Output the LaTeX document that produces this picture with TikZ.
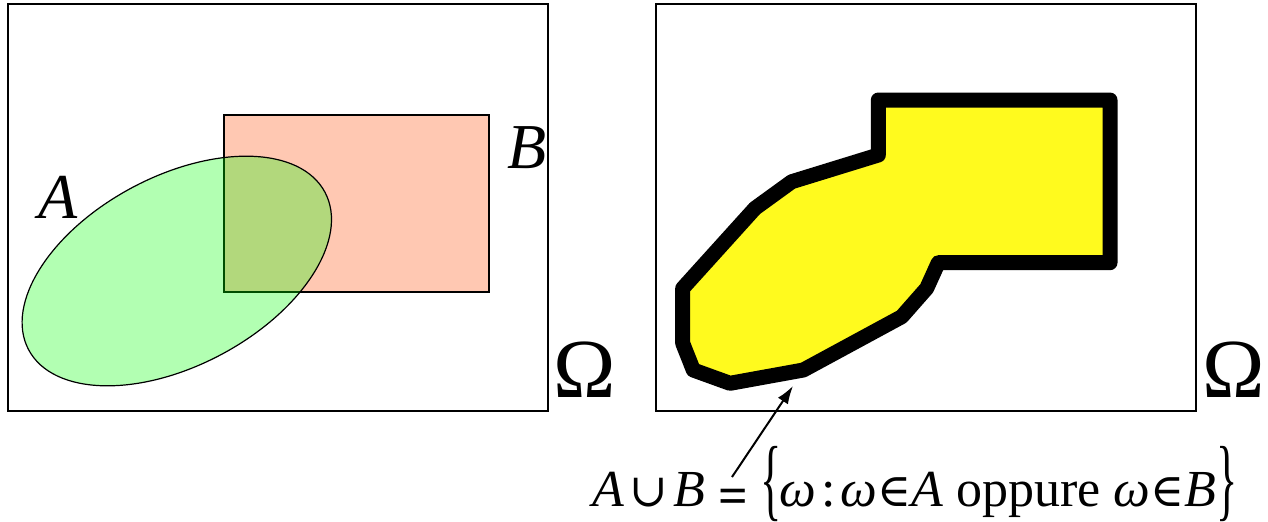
\documentclass[tikz,border=0pt]{standalone}
\usepackage{graphicx}
\usepackage{fontspec}
\setmainfont{Liberation Serif}[Ligatures=TeX]
\newfontfamily\tms{Liberation Serif}
\newfontfamily\symf{DejaVu Serif}
\usetikzlibrary{arrows.meta}
\definecolor{salmonB}{RGB}{255,200,178}
\definecolor{yelU}{RGB}{255,250,30}
\tikzset{
  frame/.style={draw=black, line width=0.8pt},
  setlabel/.style={font=\tms\fontsize{32}{34}\selectfont\itshape, inner sep=0pt},
  omlabel/.style={font=\tms\fontsize{42}{44}\selectfont, inner sep=0pt},
}
\newcommand{\bigbr}[1]{\raisebox{-0.06em}{\scalebox{0.85}[1.75]{\{}}}
\newcommand{\bigbrr}[1]{\raisebox{-0.06em}{\scalebox{0.85}[1.75]{\}}}}
\newcommand{\sy}[1]{{\symf\fontsize{23}{25}\selectfont #1}}
\begin{document}
\begin{tikzpicture}[x=0.5pt,y=-0.5pt]
\useasboundingbox (0,0) rectangle (1268,521);
% frames
\draw[frame] (8,4) rectangle (548,411);
\draw[frame] (656,4) rectangle (1196,411);
% B rectangle
\draw[fill=salmonB, line width=0.6pt] (224,115) rectangle (489,292);
% A ellipse
\draw[fill=green, fill opacity=0.3, line width=0.6pt, rotate around={28:(176.8,271)}]
  (176.8,271) ellipse [x radius=167.8, y radius=94.6];
% labels
\node[setlabel] (la) at (58,197) {A};
\node[setlabel] (lb) at (527,148) {B};
\node[omlabel] (om1) at (585,370) {Ω};
\node[omlabel] (om2) at (1234,370) {Ω};
% union shape
\draw[fill=yelU, line width=7.5pt, line join=round]
  (878.3,100) -- (1110,100) -- (1110,262.7) -- (938.3,262.7) -- (926.7,288.3)
  -- (901.7,316.7) -- (803.3,370) -- (730,383.3) -- (693.3,370) -- (682.7,343.3)
  -- (682.7,288.3) -- (755,208.3) -- (791.7,181.7) -- (878.3,155) -- cycle;
% formula
\node[anchor=base west, inner sep=0pt, font=\tms\fontsize{26}{30}\selectfont] (f) at (592,506)
  {\textit{A}\hspace{0.1em}\sy{∪}\hspace{0.1em}\textit{B} \raisebox{-0.15em}{\textbf{=}} \bigbr{}\hspace{-0.05em}\textit{ω\hspace{0.1em}}:\hspace{0.1em}\textit{ω}\sy{∈}\textit{A} oppure \textit{ω}\sy{∈}\textit{B}\bigbrr{}};
\coordinate (tail) at (732,477);
\coordinate (head) at (793,386);
\draw[line width=1pt, -{Latex[length=9pt,width=6pt]}] (tail) -- (head);
\end{tikzpicture}
\end{document}
